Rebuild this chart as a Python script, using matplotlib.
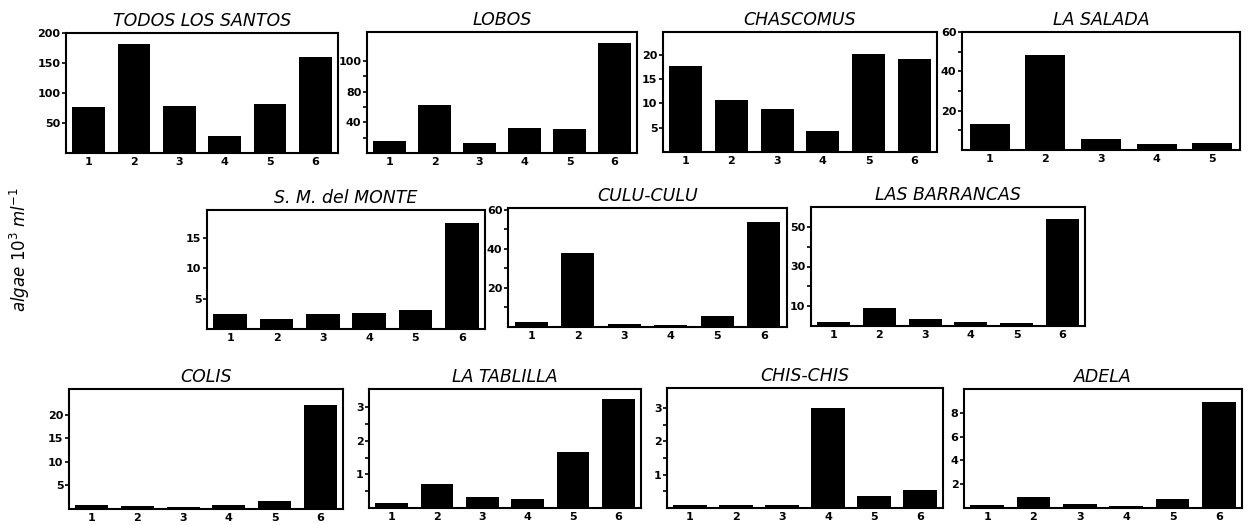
import matplotlib
matplotlib.use("Agg")
import matplotlib.pyplot as plt
import numpy as np

# lakes, in reading order
sites = ["TODOS LOS SANTOS", "LOBOS", "CHASCOMUS", "LA SALADA",
         "S. M. del MONTE", "CULU-CULU", "LAS BARRANCAS",
         "COLIS", "LA TABLILLA", "CHIS-CHIS", "ADELA"]

# algae 10^3 ml^-1 per sampling date
todos = [76, 182, 79, 29, 81, 160]
lobos = [16, 63, 13, 33, 31, 144]
chascomus = [17.8, 10.7, 8.8, 4.3, 20.2, 19.2]
salada = [13, 48.5, 5.5, 3, 3.5]
sm_monte = [2.5, 1.6, 2.5, 2.7, 3.2, 17.5]
culu = [2.5, 38, 1.5, 1, 5.5, 54]
barrancas = [2, 9, 3.5, 2, 1.5, 54]
colis = [0.9, 0.6, 0.4, 0.9, 1.6, 22]
tablilla = [0.15, 0.72, 0.33, 0.28, 1.68, 3.25]
chis = [0.1, 0.1, 0.1, 3.0, 0.37, 0.55]
adela = [0.25, 0.95, 0.3, 0.2, 0.75, 8.9]
values = [todos, lobos, chascomus, salada, sm_monte, culu, barrancas,
          colis, tablilla, chis, adela]

# y axis ticks as printed
yticks = [[50, 100, 150, 200], [40, 80, 120], [5, 10, 15, 20], [20, 40, 60],
          [5, 10, 15], [20, 40, 60], [10, 30, 50],
          [5, 10, 15, 20], [1, 2, 3], [1, 2, 3], [2, 4, 6, 8]]
ylabels = [None, ["40", "80", "100"], None, None,
           None, None, None,
           None, None, None, None]
yminor = [[], [20, 60, 100], [], [10, 30, 50],
          [], [10, 30, 50], [20, 40],
          [], [0.5, 1.5, 2.5], [0.5, 1.5, 2.5], []]
ytops = [200, 158, 24.7, 60, 19.6, 61, 60, 25.5, 3.55, 3.6, 10]

# axes boxes in pixels: left, right, top, bottom
boxes = [(66, 338, 33, 153), (367, 637, 32, 153), (663, 937, 32, 152), (962, 1240, 32, 150),
         (207, 485, 210, 329), (508, 787, 208, 327), (811, 1085, 207, 326),
         (69, 343, 389, 509), (369, 641, 389, 508), (667, 943, 388, 508), (964, 1242, 389, 508)]

W, H = 1250, 525
fig = plt.figure(figsize=(W / 100, H / 100), dpi=100)

for i in range(len(sites)):
    l, r, t, b = boxes[i]
    ax = fig.add_axes([l / W, 1 - b / H, (r - l) / W, (b - t) / H])
    v = values[i]
    x = np.arange(1, len(v) + 1)
    ax.bar(x, v, width=0.72, color="black")
    ax.set_xlim(0.5, len(v) + 0.5)
    ax.set_ylim(0, ytops[i])
    ax.set_xticks(x)
    ax.set_xticklabels([str(k) for k in x], fontsize=8, fontweight="bold")
    ax.set_yticks(yticks[i])
    if ylabels[i] is not None:
        ax.set_yticklabels(ylabels[i])
    ax.set_yticks(yminor[i], minor=True)
    ax.tick_params(axis="y", labelsize=8, length=3, width=1.2, pad=1)
    ax.tick_params(axis="y", which="minor", length=3, width=1.2)
    ax.tick_params(axis="x", length=0, pad=3)
    for lab in ax.get_yticklabels():
        lab.set_fontweight("bold")
    for s in ax.spines.values():
        s.set_linewidth(1.5)
    ax.set_title(sites[i], fontsize=12.5, fontstyle="italic", pad=5)

fig.text(0.016, 0.525, r"algae $\mathit{10}^{\mathit{3}}$ ml$^{-\mathit{1}}$",
         rotation=90, fontsize=12, fontstyle="italic", ha="center", va="center")

fig.savefig("out.png", dpi=100)
